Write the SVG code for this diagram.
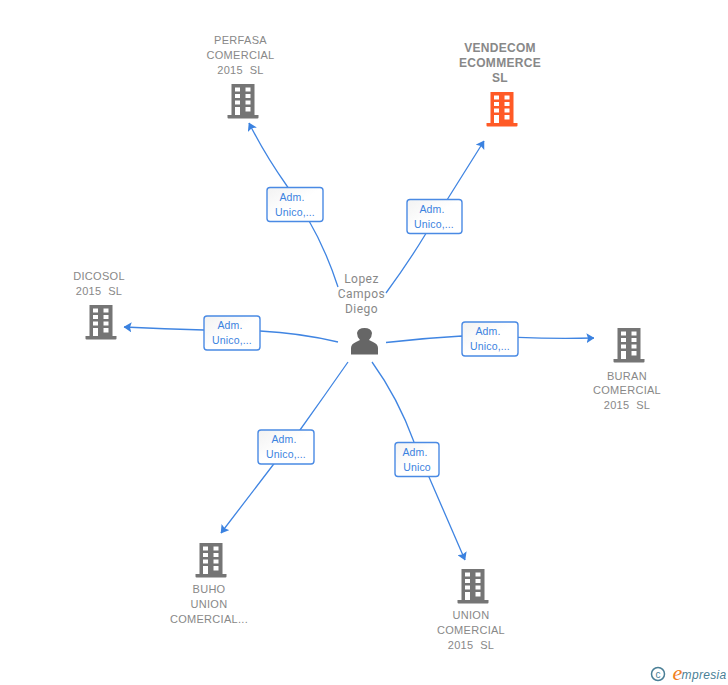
<svg xmlns="http://www.w3.org/2000/svg" width="728" height="685" viewBox="0 0 728 685">
<style>
text{white-space:pre}
.lbl{font-family:"Liberation Sans",Arial,sans-serif;font-size:11px;fill:#888;text-anchor:middle;letter-spacing:.3px}
.bold{font-weight:bold;font-size:12px;letter-spacing:.3px}
.person{font-family:Roboto,"Liberation Sans",sans-serif;font-size:12px;fill:#888;text-anchor:middle;letter-spacing:.45px}
.edge{font-family:"Liberation Sans",Arial,sans-serif;font-size:10.500px;fill:#3b82e0;text-anchor:middle;letter-spacing:.15px}
.box{fill:url(#g);stroke:#4a8ae4;stroke-width:1.400}
.c{fill:none;stroke:#4085e2;stroke-width:1.300}
</style>
<defs>
<linearGradient id="g" x1="0" y1="0" x2="1" y2="1"><stop offset="0" stop-color="#f2f2f2"/><stop offset=".5" stop-color="#fff"/></linearGradient>
<marker id="a" viewBox="0 0 8 10" refX="7.500" refY="5" markerWidth="8" markerHeight="10" markerUnits="userSpaceOnUse" orient="auto"><path d="M0 0L8 5L0 10L1.500 5Z" fill="#3b82e0"/></marker>
<path id="b" fill-rule="evenodd" d="M-11.500-18H11.500V13H15.500V15.500Q15.500 16.500 14.500 16.500H-14.500Q-15.500 16.500-15.500 15.500V13H-11.500ZM-8-14.500V-10.500H-3V-14.500ZM2.500-14.500V-10.500H7.500V-14.500ZM-8-8V-4H-3V-8ZM2.500-8V-4H7.500V-8ZM-8-1.500V2.500H-3V-1.500ZM2.500-1.500V2.500H7.500V-1.500ZM-8 5V13H-3V5ZM2.500 5V9.500H7.500V5Z"/>
</defs>
<g id="connectors">
<path class="c" marker-end="url(#a)" d="M338 287Q326 250 308 219Q290 190 287 186Q265 155 249 123"/>
<path class="c" marker-end="url(#a)" d="M386 293Q408 263 425 235L484 141"/>
<path class="c" marker-end="url(#a)" d="M338 342Q300 333 260 331L204 330Q165 329 124 327"/>
<path class="c" marker-end="url(#a)" d="M386 342.500Q425 338 462 336L518 337.300Q555 339 594 338"/>
<path class="c" marker-end="url(#a)" d="M348 362Q325 395 300 430L273 465L221 533"/>
<path class="c" marker-end="url(#a)" d="M372 362Q398 398 414 442L429 477L465 560"/>
</g>
<g id="e1"><rect class="box" x="267" y="187.500" width="56" height="34" rx="3"/><text class="edge" x="292" y="201">Adm.</text><text class="edge" x="295" y="216">Unico,...</text></g>
<g id="e2"><rect class="box" x="407" y="199.500" width="55" height="34" rx="3"/><text class="edge" x="432" y="213">Adm.</text><text class="edge" x="434" y="228">Unico,...</text></g>
<g id="e3"><rect class="box" x="204" y="316" width="56" height="34" rx="3"/><text class="edge" x="230" y="329">Adm.</text><text class="edge" x="232" y="344">Unico,...</text></g>
<g id="e4"><rect class="box" x="462" y="322" width="56" height="34" rx="3"/><text class="edge" x="488" y="335">Adm.</text><text class="edge" x="490" y="350">Unico,...</text></g>
<g id="e5"><rect class="box" x="258" y="430" width="56" height="34" rx="3"/><text class="edge" x="284" y="443">Adm.</text><text class="edge" x="286" y="458">Unico,...</text></g>
<g id="e6"><rect class="box" x="395" y="442.500" width="44" height="34" rx="3"/><text class="edge" x="415" y="456">Adm.</text><text class="edge" x="417" y="471">Unico</text></g>
<g id="n-person"><text class="person" x="361.500" y="283">Lopez</text><text class="person" x="361.500" y="298">Campos</text><text class="person" x="361.500" y="313">Diego</text>
<path fill="#666" d="M351 354.500V348Q351 344 356 342L360 340Q357 337 357 333Q358 328 364.500 328Q371 328 372 333Q372 337 369 340L373 342Q378 344 378 348V354.500Z"/></g>
<g id="n-perfasa"><text class="lbl" x="240.500" y="44">PERFASA</text><text class="lbl" x="240.500" y="59">COMERCIAL</text><text class="lbl" x="240.500" y="74">2015  SL</text><use href="#b" x="243" y="102" fill="#757575"/></g>
<g id="n-vendecom"><text class="lbl bold" x="500" y="52">VENDECOM</text><text class="lbl bold" x="500" y="67">ECOMMERCE</text><text class="lbl bold" x="500" y="82">SL</text><use href="#b" x="502" y="110" fill="#ff5a26"/></g>
<g id="n-dicosol"><text class="lbl" x="99" y="280">DICOSOL</text><text class="lbl" x="99" y="295">2015  SL</text><use href="#b" x="101" y="323" fill="#757575"/></g>
<g id="n-buran"><use href="#b" x="629" y="346" fill="#757575"/><text class="lbl" x="627" y="380">BURAN</text><text class="lbl" x="627" y="394">COMERCIAL</text><text class="lbl" x="627" y="409">2015  SL</text></g>
<g id="n-buho"><use href="#b" x="211" y="561" fill="#757575"/><text class="lbl" x="209" y="593">BUHO</text><text class="lbl" x="209" y="608">UNION</text><text class="lbl" x="209" y="623">COMERCIAL...</text></g>
<g id="n-union"><use href="#b" x="473" y="587" fill="#757575"/><text class="lbl" x="471" y="619">UNION</text><text class="lbl" x="471" y="634">COMERCIAL</text><text class="lbl" x="471" y="649">2015  SL</text></g>
<g id="logo"><circle cx="658" cy="674" r="6.500" fill="none" stroke="#4a7f96" stroke-width="1.500"/><text x="658" y="677.500" font-family="Liberation Sans,sans-serif" font-size="10" fill="#4a7f96" text-anchor="middle">c</text>
<text x="677.500" y="680" font-family="Liberation Serif,serif" font-style="italic" font-size="22" fill="#f08020" text-anchor="middle">e</text>
<text x="704" y="679" font-family="Liberation Sans,sans-serif" font-style="italic" font-size="12" fill="#4a7f96" text-anchor="middle" letter-spacing=".3">mpresia</text></g>
</svg>
